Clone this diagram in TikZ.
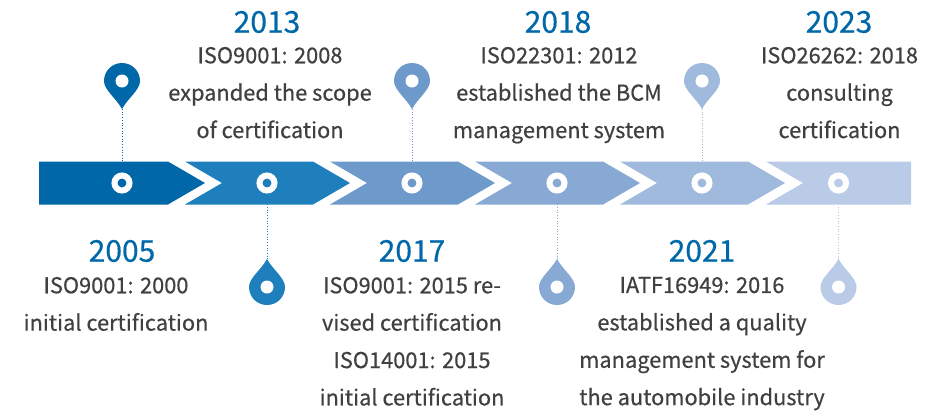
\documentclass[tikz,border=0pt]{standalone}
\usepackage{fontspec}
\setmainfont{Noto Sans CJK SC}[RawFeature={embolden=0.5}]
\usetikzlibrary{positioning}

\definecolor{stepA}{HTML}{0068A9}
\definecolor{stepB}{HTML}{1F7FBC}
\definecolor{stepC}{HTML}{6D9ACB}
\definecolor{stepD}{HTML}{88A9D4}
\definecolor{stepE}{HTML}{A0BADD}
\definecolor{stepF}{HTML}{B9CBE6}
\definecolor{bodytext}{HTML}{404040}

\begin{document}
\begin{tikzpicture}[
    x=1pt, y=-1pt,
    year/.style={font=\fontsize{30}{32}\selectfont, text=stepA, inner sep=0pt},
    info/.style={font=\fontsize{21.8}{37.4}\selectfont, text=bodytext, align=center, inner sep=0pt, below=14.5pt of #1},
    ring/.style={circle, draw=white, line width=6pt, minimum size=15pt, inner sep=0pt},
    link/.style={dotted, line width=0.7pt},
    pin/.pic={
        \fill (0,-18) .. controls (-10,-18) and (-18,-10) .. (-18,0)
            .. controls (-18,9) and (-6,17) .. (0,28)
            .. controls (6,17) and (18,9) .. (18,0)
            .. controls (18,-10) and (10,-18) .. (0,-18) -- cycle;
        \fill[white] (0,0) circle[radius=6.5pt];
        \coordinate (-tip) at (0,28);
    }
]

\useasboundingbox (0,0) rectangle (951,413);

% Band of arrows
\fill[stepA] (39,161.5) -- (168,161.5) -- (205,183) -- (168,204.5) -- (39,204.5) -- cycle;
\fill[stepB] (185,161.5) -- (313,161.5) -- (350,183) -- (313,204.5) -- (185,204.5) -- (222,183) -- cycle;
\fill[stepC] (330,161.5) -- (458,161.5) -- (495,183) -- (458,204.5) -- (330,204.5) -- (367,183) -- cycle;
\fill[stepD] (475,161.5) -- (603,161.5) -- (640,183) -- (603,204.5) -- (475,204.5) -- (512,183) -- cycle;
\fill[stepE] (620,161.5) -- (748,161.5) -- (785,183) -- (748,204.5) -- (620,204.5) -- (657,183) -- cycle;
\fill[stepF] (766,161.5) -- (911,161.5) -- (911,204.5) -- (766,204.5) -- (803,183) -- cycle;

% Rings on the band
\node[ring, fill=stepA] (ringA) at (122,183) {};
\node[ring, fill=stepB] (ringB) at (267,183) {};
\node[ring, fill=stepC] (ringC) at (412,183) {};
\node[ring, fill=stepD] (ringD) at (557,183) {};
\node[ring, fill=stepE] (ringE) at (702,183) {};
\node[ring, fill=stepF] (ringF) at (838.5,183) {};

% Pins above and below
\pic[fill=stepA] (pinA) at (122,81) {pin};
\pic[fill=stepB, yscale=-1] (pinB) at (267,287) {pin};
\pic[fill=stepC] (pinC) at (412,81) {pin};
\pic[fill=stepD, yscale=-1] (pinD) at (557,287) {pin};
\pic[fill=stepE] (pinE) at (702,81) {pin};
\pic[fill=stepF, yscale=-1] (pinF) at (838.5,287) {pin};

% Dotted links
\draw[link, stepA] (pinA-tip) -- (ringA);
\draw[link, stepB] (ringB) -- (pinB-tip);
\draw[link, stepC] (pinC-tip) -- (ringC);
\draw[link, stepD] (ringD) -- (pinD-tip);
\draw[link, stepE] (pinE-tip) -- (ringE);
\draw[link, stepF] (ringF) -- (pinF-tip);

% Years and texts above the band
\node[year] (yearB) at (267,22) {2013};
\node[info=yearB, xshift=3pt, yshift=1pt] (infoB) {ISO9001: 2008\\expanded the scope\\of certification};
\node[year] (yearD) at (558,22) {2018};
\node[info=yearD, xshift=1pt, yshift=1pt] (infoD) {ISO22301: 2012\\established the BCM\\management system};
\node[year] (yearF) at (839,22) {2023};
\node[info=yearF, xshift=0.5pt, yshift=1pt] (infoF) {ISO26262: 2018\\consulting\\certification};

% Years and texts below the band
\node[year] (yearA) at (122,251) {2005};
\node[info=yearA, xshift=-6pt] (infoA) {ISO9001: 2000\\initial certification};
\node[year] (yearC) at (412,251) {2017};
\node[info=yearC] (infoC) {ISO9001: 2015 re-\\vised certification\\ISO14001: 2015\\initial certification};
\node[year] (yearE) at (702,251) {2021};
\node[info=yearE] (infoE) {IATF16949: 2016\\established a quality\\management system for\\the automobile industry};

\end{tikzpicture}
\end{document}
